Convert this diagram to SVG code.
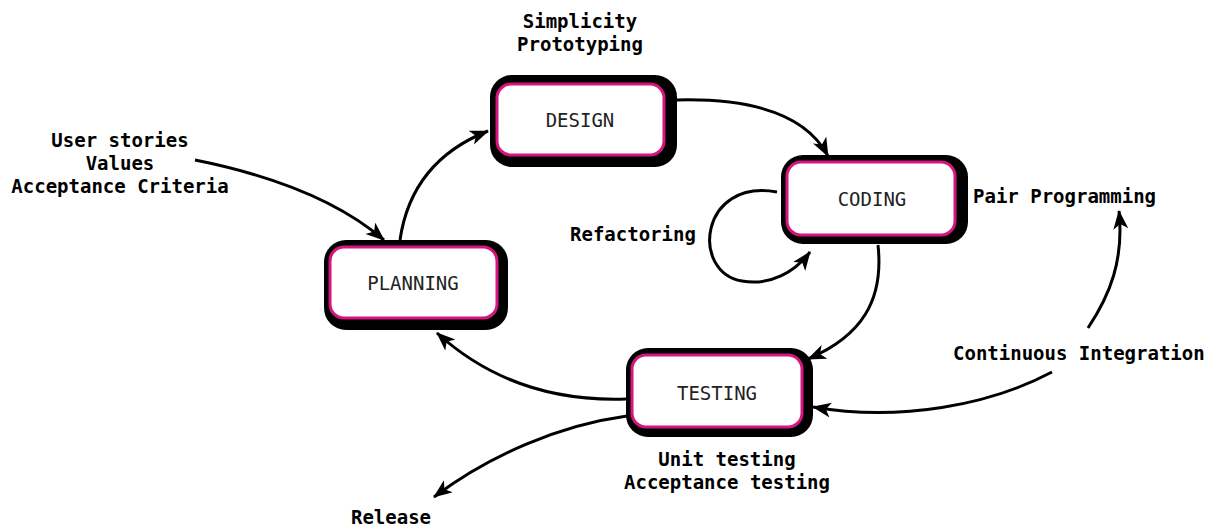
<svg xmlns="http://www.w3.org/2000/svg" width="1207" height="527" viewBox="0 0 1207 527">
<defs>
<style>
.shadow{fill:#000}
.face{fill:#fff;stroke:#d6157f;stroke-width:3}
.btext{font-family:"DejaVu Sans Mono","Liberation Mono",monospace;font-size:19px;fill:#222;text-anchor:middle}
.label{font-family:"DejaVu Sans Mono","Liberation Mono",monospace;font-size:19px;font-weight:bold;fill:#000}
.mid{text-anchor:middle}
.conn{fill:none;stroke:#000;stroke-width:3;marker-end:url(#arrow)}
</style>
<marker id="arrow" markerUnits="userSpaceOnUse" markerWidth="22" markerHeight="16" refX="18" refY="7.5" orient="auto">
<path d="M0,0 L19,7.5 L0,15 L5,7.5 z" fill="#000"/>
</marker>
</defs>
<rect width="1207" height="527" fill="#fff"/>

<g id="connectors">
<path class="conn" d="M195,160 Q320,185 384,240"/>
<path class="conn" d="M400,240 C408,185 440,150 488,131"/>
<path class="conn" d="M677,100 C760,98 808,118 828,156"/>
<path class="conn" d="M777,192 C700,178 690,272 742,281 C770,286 795,272 810,252"/>
<path class="conn" d="M878,245 C884,300 862,336 808,359"/>
<path class="conn" d="M626,399 C540,402 480,372 437,333"/>
<path class="conn" d="M627,416 C560,425 490,455 434,497"/>
<path class="conn" d="M1052,372 C990,405 900,422 813,407"/>
<path class="conn" d="M1088,328 C1110,295 1124,260 1119,211"/>
</g>

<g id="design">
<rect class="shadow" x="490" y="75" width="187" height="92" rx="22"/>
<rect class="face" x="497" y="84" width="167" height="71" rx="14"/>
<text class="btext" x="580" y="127">DESIGN</text>
</g>
<g id="coding">
<rect class="shadow" x="781" y="155" width="187" height="89" rx="22"/>
<rect class="face" x="787" y="162" width="168" height="73" rx="14"/>
<text class="btext" x="872" y="206">CODING</text>
</g>
<g id="planning">
<rect class="shadow" x="324" y="240" width="184" height="90" rx="22"/>
<rect class="face" x="330" y="247" width="167" height="71" rx="14"/>
<text class="btext" x="413" y="290">PLANNING</text>
</g>
<g id="testing">
<rect class="shadow" x="626" y="348" width="187" height="89" rx="22"/>
<rect class="face" x="632" y="355" width="170" height="72" rx="14"/>
<text class="btext" x="717" y="400">TESTING</text>
</g>

<g id="labels">
<text class="label mid" x="580" y="28">Simplicity</text>
<text class="label mid" x="580" y="51">Prototyping</text>
<text class="label mid" x="120" y="147">User stories</text>
<text class="label mid" x="120" y="170">Values</text>
<text class="label mid" x="120" y="193">Acceptance Criteria</text>
<text class="label" x="570" y="241">Refactoring</text>
<text class="label" x="973" y="203">Pair Programming</text>
<text class="label" x="953" y="360">Continuous Integration</text>
<text class="label mid" x="727" y="466">Unit testing</text>
<text class="label mid" x="727" y="489">Acceptance testing</text>
<text class="label mid" x="391" y="524">Release</text>
</g>
</svg>
